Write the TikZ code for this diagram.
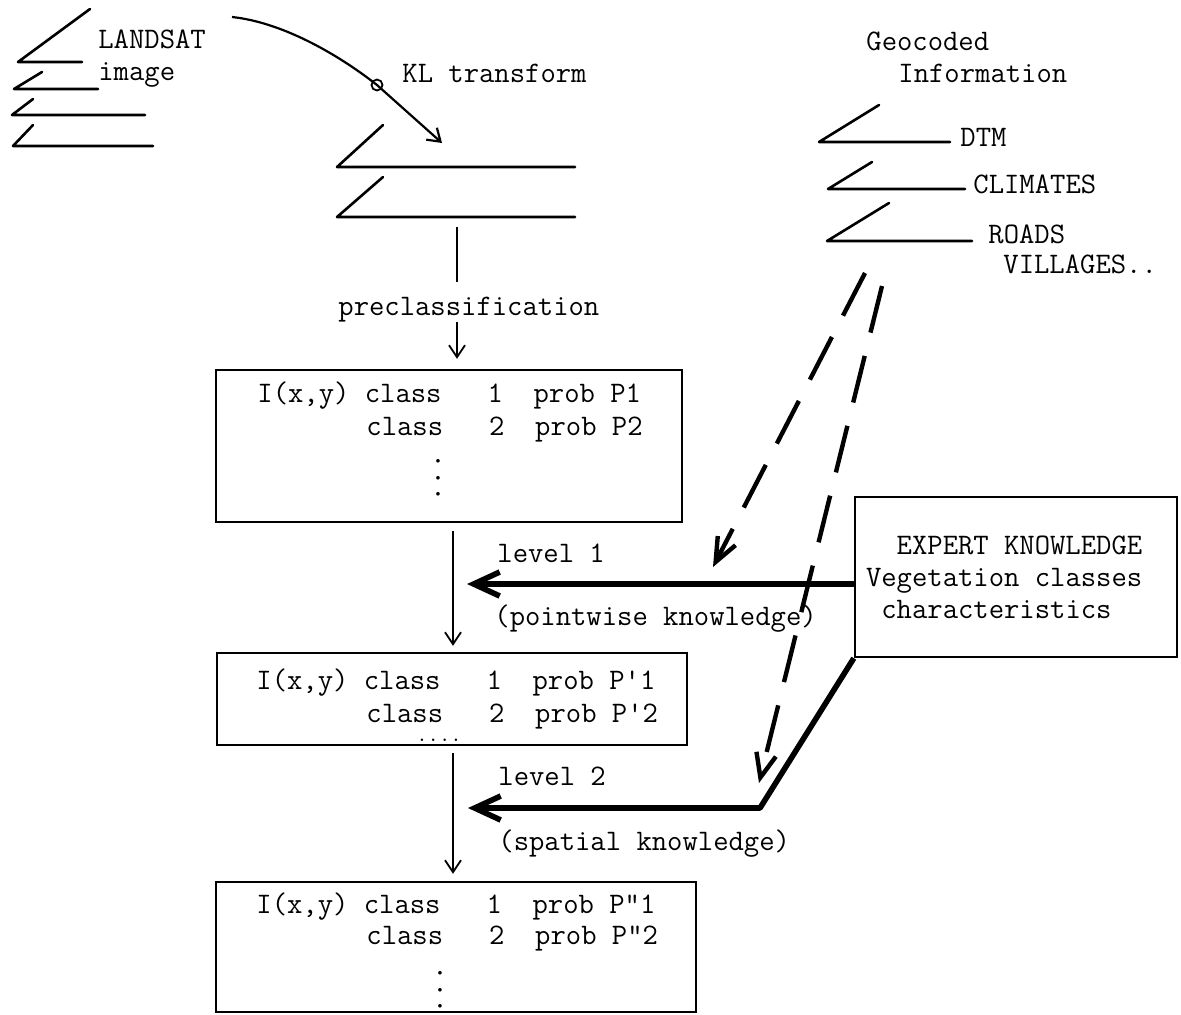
\documentclass[tikz,border=0pt]{standalone}
\usepackage{amsmath}
\usepackage{amssymb}
\usepackage{tikz}
\usetikzlibrary{shapes, arrows.meta}
\tikzstyle{block}=[draw, rectangle, line width=1.2pt, inner sep=0pt]
\tikzstyle{lbl}=[inner sep=0pt, anchor=base west]
\tikzstyle{dots}=[inner sep=0pt, rotate=90, font=\fontsize{16}{16}\selectfont\ttfamily]
\tikzstyle{band}=[draw, line width=1.3pt, line cap=round, line join=round]
\tikzstyle{line}=[draw, line width=0.9pt, -{Straight Barb[length=6pt,width=8pt]}]
\tikzstyle{heavy}=[draw, line width=2.8pt, line join=round, -{Straight Barb[length=13pt,width=12pt]}]
\tikzstyle{hint}=[draw, line width=2.2pt, dash pattern=on 24pt off 12pt, -{Straight Barb[length=12pt,width=10pt]}]

\begin{document}
\begin{tikzpicture}[x=0.5pt, y=-0.5pt, font=\fontsize{14.9}{16}\selectfont\ttfamily]
		\useasboundingbox (0,0) rectangle (1181,1014);
		% LANDSAT bands
		\draw[band] (90,9) -- (18,62) -- (82,62);
		\draw[band] (42,72) -- (14,89) -- (98,89);
		\draw[band] (33,99) -- (12,115) -- (145,115);
		\draw[band] (33,125) -- (13,146) -- (153,146);
		\node[lbl] (landsat) at (98,48) {LANDSAT};
		\node[lbl] (image) at (98,80) {image};
		% KL transform
		\coordinate (kla) at (232,17);
		\node[draw, circle, minimum size=5.5pt, inner sep=0pt, line width=0.9pt] (klring) at (377,85) {};
		\coordinate (klb) at (442,143);
		\draw[line, line width=1.1pt] (kla) .. controls (280,22) and (335,52) .. (klring.center) -- (klb);
		\node[lbl] (kl) at (402,82) {KL~transform};
		\draw[band] (383,125) -- (337,167) -- (575,167);
		\draw[band] (383,177) -- (337,217) -- (575,217);
		% geocoded information
		\node[lbl] (geo) at (866,50) {Geocoded};
		\node[lbl] (info) at (898,82) {Information};
		\draw[band] (879,105) -- (819,142) -- (950,142);
		\draw[band] (872,162) -- (828,189) -- (965,189);
		\draw[band] (889,203) -- (827,241) -- (972,241);
		\node[lbl] (dtm) at (960,146) {DTM};
		\node[lbl] (clim) at (973,193) {CLIMATES};
		\node[lbl] (roads) at (988,243) {ROADS};
		\node[lbl] (vill) at (1003,273) {VILLAGES..};
		% class boxes
		\node[lbl] (precl) at (338,315) {preclassification};
		\node[block, minimum width=233pt, minimum height=76pt] (box1) at (449,446) {};
		\node[lbl] (r11) at (257,402) {I(x,y) class~~~1~~prob~P1};
		\node[lbl] (r12) at (366,435) {class~~~2~~prob~P2};
		\node[dots] (d1) at (438,478) {...};
		\node[block, minimum width=235pt, minimum height=46pt] (box2) at (452,699) {};
		\node[lbl] (r21) at (256,689) {I(x,y) class~~~1~~prob~P\textquotesingle1};
		\node[lbl] (r22) at (366,722) {class~~~2~~prob~P\textquotesingle2};
		\node[lbl, font=\fontsize{11}{11}\selectfont\ttfamily] (d2) at (416,741) {....};
		\node[block, minimum width=240pt, minimum height=65pt] (box3) at (456,947) {};
		\node[lbl] (r31) at (256,913) {I(x,y) class~~~1~~prob~P\textquotedbl1};
		\node[lbl] (r32) at (366,944) {class~~~2~~prob~P\textquotedbl2};
		\node[dots] (d3) at (440,990) {...};
		% expert knowledge
		\node[block, minimum width=161pt, minimum height=80pt, text width=150pt, align=left,
			execute at begin node={\spaceskip=\fontdimen2\font\relax}] (expert) at (1016,577) {~~EXPERT KNOWLEDGE\\Vegetation classes\\~characteristics};
		\node[lbl] (lvl1) at (497,562) {level~1};
		\node[lbl] (pw) at (494,625) {(pointwise knowledge)};
		\node[lbl] (lvl2) at (498,785) {level~2};
		\node[lbl] (sp) at (498,850) {(spatial knowledge)};
		% flow
		\coordinate (klfoot) at (457,227);
		\coordinate (spine) at (453,0);
		\draw[line, -, shorten >=7pt] (klfoot) -- (klfoot |- precl.north);
		\draw[line, shorten >=5pt] (klfoot |- precl.south) -- (klfoot |- box1.north);
		\draw[line] ([yshift=-4pt]spine |- box1.south) -- ([yshift=3pt]spine |- box2.north);
		\draw[line] ([yshift=-3.5pt]spine |- box2.south) -- ([yshift=3.5pt]spine |- box3.north);
		\coordinate (tip1) at (467,584);
		\coordinate (bend) at (760,808);
		\coordinate (tip2) at (468,808);
		\draw[heavy] (expert.west |- tip1) -- (tip1);
		\draw[heavy] (expert.south west) -- (bend) -- (tip2);
		\coordinate (geo1) at (865,273);
		\coordinate (geo1end) at (713,567);
		\coordinate (geo2) at (882,286);
		\coordinate (geo2end) at (759,783);
		\draw[hint] (geo1) -- (geo1end);
		\draw[hint] (geo2) -- (geo2end);
	\end{tikzpicture}
\end{document}
